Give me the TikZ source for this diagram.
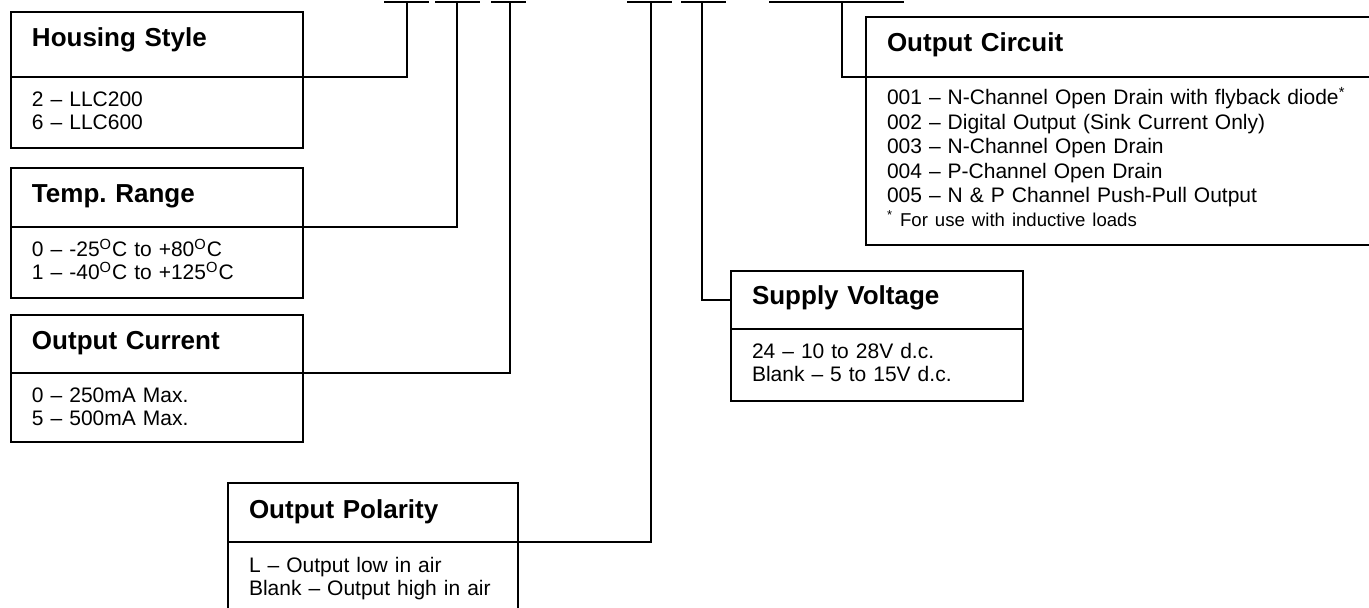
\documentclass[tikz,border=0pt]{standalone}
\usepackage{fontspec}
\setmainfont{Liberation Sans}
\usetikzlibrary{positioning}
\frenchspacing

\begin{document}
\begin{tikzpicture}[
  x=0.5pt, y=-0.5pt,
  font=\fontsize{10.5}{11.5}\selectfont,
  head/.style={draw, line width=0.9pt, anchor=north west, align=left,
               inner xsep=10.5pt, inner ysep=0pt, outer sep=0pt,
               text width=125pt, text height=17.5pt, text depth=12pt,
               font=\fontsize{13}{15}\selectfont\bfseries},
  body/.style={draw, line width=0.9pt, align=left, inner xsep=10.5pt,
               inner ysep=0pt, outer sep=0pt, text width=125pt,
               text height=15pt, text depth=20.5pt},
  wire/.style={line width=0.9pt}
]
  \useasboundingbox (0,0) rectangle (1369,608);

  % blanks of the part number
  \foreach \nm/\xv/\xa/\xb in {p1/407/384/429, p2/457/435/480, p3/510/491/526,
                               p4/651/627/672, p5/702/681/726, p6/842/769/904}{
    \coordinate (\nm) at (\xv,2);
    \draw[wire] (\xa,2) -- (\xb,2);
  }

  \node[head, text depth=15pt] (house) at (11,12) {Housing Style};
  \node[body, below=0pt of house] (houseB) {2 -- LLC200\\6 -- LLC600};

  \node[head] (temp) at (11,168) {Temp. Range};
  \node[body, below=0pt of temp] (tempB)
    {0 -- -25\textsuperscript{O}C to +80\textsuperscript{O}C\\
     1 -- -40\textsuperscript{O}C to +125\textsuperscript{O}C};

  \node[head, text depth=11.5pt] (curr) at (11,315) {Output Current};
  \node[body, below=0pt of curr, text depth=19.5pt] (currB)
    {0 -- 250mA Max.\\5 -- 500mA Max.};

  \node[head, text width=124pt] (pola) at (228,483) {Output Polarity};
  \node[body, below=0pt of pola, text width=124pt, text depth=26pt] (polaB)
    {L -- Output low in air\\Blank -- Output high in air};

  \node[head, text height=17pt, text depth=12pt] (supp) at (731,271) {Supply Voltage};
  \node[body, below=0pt of supp, text depth=21pt] (suppB)
    {24 -- 10 to 28V d.c.\\Blank -- 5 to 15V d.c.};

  \node[head, text width=239pt, text depth=12.5pt] (circ) at (866,17) {Output Circuit};
  \node[body, below=0pt of circ, text width=239pt, text height=14pt,
        text depth=70pt, font=\fontsize{10.5}{12.2}\selectfont] (circB)
    {001 -- N-Channel Open Drain with flyback diode\textsuperscript{*}\\
     002 -- Digital Output (Sink Current Only)\\
     003 -- N-Channel Open Drain\\
     004 -- P-Channel Open Drain\\
     005 -- N \& P Channel Push-Pull Output\\
     {\fontsize{9.3}{11}\selectfont\textsuperscript{*} For use with inductive loads}};

  \draw[wire] (house.south east) -| (p1);
  \draw[wire] (temp.south east) -| (p2);
  \draw[wire] (curr.south east) -| (p3);
  \draw[wire] (pola.south east) -| (p4);
  \draw[wire] (supp.west) -| (p5);
  \draw[wire] (circ.south west) -| (p6);
\end{tikzpicture}
\end{document}
